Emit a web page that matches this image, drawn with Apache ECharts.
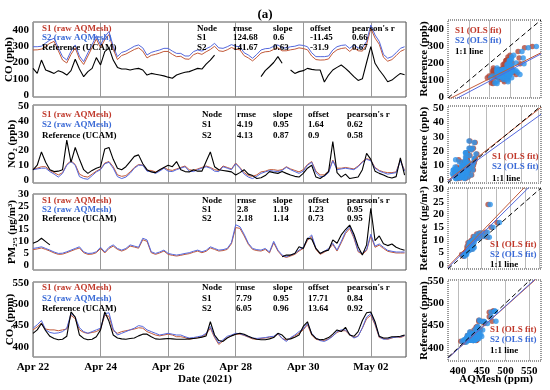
<!DOCTYPE html>
<html><head><meta charset="utf-8">
<script src="https://cdn.jsdelivr.net/npm/echarts@6/dist/echarts.min.js"></script>
<style>html,body{margin:0;padding:0;background:#fff}#c{width:550px;height:390px}</style>
</head><body><div id="c"></div><script>
const FONT = '"Liberation Serif","Times New Roman",serif';
const STEP_H = 3; // sample spacing (hours) starting Apr 22 00:00
const dateTicks = ['Apr 22','Apr 24','Apr 26','Apr 28','Apr 30','May 02'];

// ---- CO (ppb)
const CO_S1 = [277,278,282,300,318,330,272,215,197,250,290,222,188,240,292,345,290,340,372,282,218,243,252,266,280,290,270,228,244,250,258,268,268,250,236,238,222,220,248,258,250,266,280,300,272,268,278,292,282,278,242,228,210,232,258,266,268,280,290,272,272,278,282,290,286,278,240,218,215,216,222,258,278,286,290,268,290,272,270,310,410,350,312,232,208,218,242,268,280];
const CO_S2 = [297,297,300,320,338,349,290,236,215,270,308,240,205,260,310,365,308,359,390,300,236,262,270,285,300,308,290,246,262,270,277,287,287,270,256,256,240,240,267,277,270,285,297,318,290,287,297,310,300,297,260,246,226,250,277,285,287,300,308,290,290,297,300,308,305,297,260,236,236,236,240,277,297,305,308,287,308,290,290,330,430,369,330,250,226,236,260,287,297];
const CO_REF = [164,133,215,154,144,133,150,140,123,150,220,160,113,144,164,230,185,267,290,215,170,160,160,154,160,164,154,123,133,128,123,118,110,103,123,133,140,144,154,164,160,190,215,246,null,null,null,null,null,null,null,null,null,null,113,150,174,200,236,195,null,154,133,144,150,164,158,154,154,80,123,154,170,185,164,140,113,90,100,200,297,195,154,120,82,92,113,133,125];
// ---- NO2 (ppb)
const NO2_S1 = [7.5,8,9,9,6.5,5,3.5,5,10.5,13,10.5,4,2.5,2,4,6,7.5,11.5,12.5,9,3.5,2.5,3,5.5,8.5,10.5,10,6.5,6.5,5.5,6.5,8.5,7,6.5,7.5,8.5,9.5,7,6.5,7.5,8.5,9.5,8.5,7,6.5,9.5,8.5,7.5,11.5,8.5,5,3,2.5,3.5,5.5,6,7,7,6.5,7,9,7.5,6.5,5.5,7,10.5,12.5,6,3.5,3.5,6,13.5,8,8,8.5,8,7.5,9.5,12.5,14.5,13.5,8.5,6.5,5.5,5,5,5.5,13.5,6.5];
const NO2_S2 = [7,7.5,8,8,5.7,4,2,4.5,10,12.5,10,2.3,1,0.5,3,5.5,7,11,12,8,2.3,1,2,4.5,8,10,10,6,5.7,4.5,6,8,6,5.7,7,8,9,6,5.7,7,8,9,8,6,5.7,9,8,7,11,8,4,2,1,2.5,4.5,5.5,6.4,6,5.7,6.5,8.6,7,5.7,4.5,6,10,12,5,2.3,2.5,5,13,7,7.5,8,7.5,7,9,12,14,13,8,6,5,4,4.5,5,13,6];
const NO2_REF = [6.8,10,19,12,7,5.7,6,7,27,12,22,14,7,4.5,6.5,8,9,21,22,14,8,7,9,12.5,16,17,11,7,5.5,5,7,8.5,10,9,12.5,7,5.7,5.5,7,6,6,12.5,19,9,7,6.5,6,5.5,3.4,5,7,4,3,1,1.5,3,5.7,5,4.5,5.7,4.5,3.4,2.5,2,4.5,8,10,2,1,3,5.7,26,5,2,4,1,1.5,2,7,18,14,6,4.5,3.4,2,1.4,2.3,15,3.4];
// ---- PM2.5 (ug/m3)
const PM_S1 = [6.5,6.8,7.2,6.6,5.9,5.1,4.5,4.6,5.2,5.9,6.6,7.2,5.2,4.5,4.6,5.2,7,5.1,7,8,6.6,5.9,6.6,8,7.6,7.1,10.7,10,5.2,4.5,5.1,5.9,4.5,4.1,3.8,4.1,4.5,4.8,5.4,5.9,5.2,5.8,7.2,6.6,5.9,6.1,6.6,9,15.8,15.5,12.3,8.7,6.6,6.1,5.9,6.6,5.1,9.4,5.9,3.8,3.2,3.8,4.5,5.9,7,10.4,12,6.6,4.5,5.4,6.6,8.7,5.9,9.4,13.3,15.4,11.4,5.6,4.5,6.1,12.3,7.5,8.4,7,5.8,5.4,5.1,5.1,5.1];
const PM_S2 = [7,7.3,7.7,7,6.3,5.5,4.9,5,5.6,6.3,7,7.7,5.6,4.9,5,5.6,7.5,5.5,7.5,8.5,7,6.3,7,8.5,8,7.5,11.3,10.6,5.6,4.9,5.5,6.3,4.9,4.5,4.2,4.5,4.9,5.2,5.8,6.3,5.6,6.2,7.7,7,6.3,6.5,7,9.5,17,16.2,13,9.2,7,6.5,6.3,7,5.5,10,6.3,4.2,3.5,4.2,4.9,6.3,7.5,11,12.7,7,4.9,5.8,7,9.2,6.3,10,14,16.2,12,6,4.9,6.5,13,8,8.9,7.5,6.2,5.8,5.5,5.5,5.5];
const PM_REF = [9.2,9.9,11.3,9.9,8.5,null,null,null,null,null,null,null,null,null,null,null,null,null,null,null,null,null,null,null,null,null,null,null,null,null,null,null,null,null,null,null,null,null,null,null,null,null,null,null,null,null,null,null,null,null,null,null,null,null,null,null,null,null,null,3.5,4.2,4.2,4.9,7.7,7,11.3,11,7,4.9,5.8,6.3,10.6,9.2,12.7,15,16.9,13,7.7,4.2,8.5,24,10.3,12.3,9,8.2,8.9,7.5,6.8,6.2];
// ---- CO2 (ppm)
const CO2_S1 = [440,447,456,442,440,440,438,440,442,474,466,440,434,432,434,436,442,474,472,438,432,436,438,440,442,445,444,436,432,428,426,428,430,428,424,424,422,418,420,422,424,430,444,422,406,414,422,426,430,430,427,423,419,418,420,421,423,424,430,420,416,420,426,432,440,452,428,418,416,415,419,426,434,438,438,428,422,426,444,466,474,452,422,420,418,421,424,422,426];
const CO2_S2 = [444,452,462,440,434,432,433,436,444,478,470,445,436,432,436,440,444,478,480,442,428,432,436,440,444,450,448,440,436,432,428,430,432,430,428,428,424,421,422,424,426,432,448,425,409,417,425,428,432,431,428,424,421,420,421,422,424,425,432,420,413,422,428,436,442,455,432,421,415,413,418,425,436,440,440,430,421,425,445,470,478,455,424,418,419,422,423,424,427];
const CO2_REF = [432,440,455,438,425,420,417,418,425,482,470,428,420,417,418,424,440,482,460,428,421,419,418,420,421,426,430,430,424,419,418,419,420,419,418,418,418,419,420,421,423,426,459,428,415,413,421,426,430,432,430,425,421,418,417,417,419,422,432,428,418,419,423,428,448,459,430,420,417,418,422,430,440,436,446,428,425,436,462,480,482,459,425,421,421,424,424,425,428];

// stats: rmse, slope, offset, pearson's r
const CO_STATS_S1 = [124.68, 0.6, -11.45, 0.66],  CO_STATS_S2 = [141.67, 0.63, -31.9, 0.67];
const NO2_STATS_S1 = [4.19, 0.95, 1.64, 0.62],    NO2_STATS_S2 = [4.13, 0.87, 0.9, 0.58];
const PM_STATS_S1 = [2.8, 1.19, 1.23, 0.95],      PM_STATS_S2 = [2.18, 1.14, 0.73, 0.95];
const CO2_STATS_S1 = [7.79, 0.95, 17.71, 0.84],   CO2_STATS_S2 = [6.05, 0.96, 13.64, 0.92];
const tableHeader = ['Node','rmse','slope','offset',"pearson's r"];

const yNames = ['CO (ppb)','NO\u2082 (ppb)','PM\u2082.\u2085 (\u03bcg/m\u00b3)','CO\u2082 (ppm)'];
const refNames = ['Reference (ppb)','Reference (ppb)','Reference (\u03bcg/m\u00b3)','Reference (ppm)'];
const yTicks = [[0,100,200,300,400],[0,10,20,30,40,50],[0,5,10,15,20,25,30],[400,450,500,550]];
const scXTicks = [[100,200,300,400],[10,20,30,40,50],[5,10,15,20,25,30],[400,450,500,550]];

const panels = [
  {s1:CO_S1,s2:CO_S2,ref:CO_REF,st1:CO_STATS_S1,st2:CO_STATS_S2},
  {s1:NO2_S1,s2:NO2_S2,ref:NO2_REF,st1:NO2_STATS_S1,st2:NO2_STATS_S2},
  {s1:PM_S1,s2:PM_S2,ref:PM_REF,st1:PM_STATS_S1,st2:PM_STATS_S2},
  {s1:CO2_S1,s2:CO2_S2,ref:CO2_REF,st1:CO2_STATS_S1,st2:CO2_STATS_S2}
];

// ---- layout / style (not data)
const L = {
  tsLeft:33, tsWidth:373, tsTops:[22,105,194,282], tsHeights:[75,78,76,75],
  tsY:[[-12,449],[-2,50.7],[-2.1,30],[376.6,552]], tsXMax:265,
  scLeft:448, scWidth:93, scTops:[20,106,188,280], scHeights:[78,77,81,81],
  scX:[[-6,453],[-2.1,51.4],[-1.5,30.5],[379,575]], scY:[[-6,453],[-2.1,51.4],[-1.5,30.5],[371,552]],
  legRows:[[29,38,48],[115,125,136],[201,210,219],[288,299,309]],
  tabCols:[[197,233,273,310,352],[202,237,273,308,347],[202,237,273,308,347],[202,236,273,308,347]],
  scLeg:[[455,[31,41,52]],[492,[157,167,179]],[490,[245,255,265]],[490,[330,340,351]]],
  yNameX:[9,12,12,10]
};
const C1 = '#c25a3a', C2 = '#5468dd', CT1 = '#c0392b', CT2 = '#3a6ad6';
const SC1 = '#b0483a', SC2 = '#2e94ea';

const hours = CO_S1.map((_, i) => i * STEP_H);
const series = (vals) => vals.map((v, i) => [hours[i], v]);
const pairs = (sx, ref) => { const o=[]; sx.forEach((v,i)=>{ if(v!=null && ref[i]!=null) o.push([v, ref[i]]); }); return o; };

const lab = {fontFamily:FONT, fontWeight:'bold', fontSize:11, color:'#000'};
const grids=[], xAxes=[], yAxes=[], ser=[];
for (let p=0;p<4;p++){
  grids.push({left:L.tsLeft, top:L.tsTops[p], width:L.tsWidth, height:L.tsHeights[p], show:true, borderColor:'#555', borderWidth:1, backgroundColor:'transparent'});
  xAxes.push({type:'value', gridIndex:p, min:0, max:L.tsXMax, interval:48,
    axisLine:{show:false}, axisTick:{show:false},
    splitLine:{show:true, lineStyle:{color:'#999', width:1}},
    axisLabel:Object.assign({show:p===3, margin:5, showMaxLabel:false, formatter:v=> (v%48===0 ? dateTicks[v/48]||'' : '')}, lab)});
  yAxes.push({type:'value', gridIndex:p, min:L.tsY[p][0], max:L.tsY[p][1],
    axisLine:{show:false}, axisTick:{show:false, customValues:yTicks[p]}, splitLine:{show:false},
    axisLabel:Object.assign({customValues:yTicks[p], margin:4}, lab)});
}
for (let p=0;p<4;p++){
  grids.push({left:L.scLeft, top:L.scTops[p], width:L.scWidth, height:L.scHeights[p], show:true, borderColor:'#333', borderWidth:1, borderType:'dotted', backgroundColor:'transparent'});
  xAxes.push({type:'value', gridIndex:4+p, min:L.scX[p][0], max:L.scX[p][1],
    axisLine:{show:false}, axisTick:{show:false, customValues:scXTicks[p]},
    splitLine:{show:true, lineStyle:{color:'#bbb', width:1}},
    axisLabel:Object.assign({show:p===3, customValues:scXTicks[p], margin:5}, lab)});
  yAxes.push({type:'value', gridIndex:4+p, min:L.scY[p][0], max:L.scY[p][1],
    axisLine:{show:false}, axisTick:{show:false, customValues:yTicks[p]}, splitLine:{show:false},
    axisLabel:Object.assign({customValues:yTicks[p], margin:4}, lab)});
}
panels.forEach((P,p)=>{
  const ln = (data,color,w,z)=>({type:'line', xAxisIndex:p, yAxisIndex:p, data, showSymbol:false, connectNulls:false, z, lineStyle:{color, width:w}, itemStyle:{color}});
  ser.push(ln(series(P.s1), C1, 1, 2));
  ser.push(ln(series(P.s2), C2, 1, 3));
  ser.push(ln(series(P.ref), '#000', 1.1, 4));
  const sc = (data,color,z)=>({type:'scatter', xAxisIndex:4+p, yAxisIndex:4+p, data, symbol:'circle', symbolSize:5.5, z, itemStyle:{color}});
  ser.push(sc(pairs(P.s1,P.ref), SC1, 2));
  ser.push(sc(pairs(P.s2,P.ref), SC2, 3));
  const [x0,x1] = L.scX[p];
  const fit = (st,color)=>({type:'line', xAxisIndex:4+p, yAxisIndex:4+p, showSymbol:false, z:5, clip:true,
    data:[[x0, st[1]*x0+st[2]],[x1, st[1]*x1+st[2]]], lineStyle:{color, width:1}});
  ser.push(fit(P.st1, C1));
  ser.push(fit(P.st2, C2));
  ser.push({type:'line', xAxisIndex:4+p, yAxisIndex:4+p, showSymbol:false, z:5, clip:true,
    data:[[x0,x0],[x1,x1]], lineStyle:{color:'#000', width:1, type:[5,3]}});
});

const T = (x,y,text,o={}) => ({type:'text', x, y, rotation:o.rot||0, silent:true, z:100,
  style:{text, fill:o.color||'#000', font:`bold ${o.size||9}px ${FONT}`, align:o.align||'left', verticalAlign:'middle', textAlign:o.align||'left', textVerticalAlign:'middle'}});
const g=[];
g.push(T(265,15,'(a)',{size:13,align:'center'}));
panels.forEach((P,p)=>{
  const cy = L.tsTops[p] + L.tsHeights[p]/2;
  g.push(T(L.yNameX[p], cy, yNames[p], {size:11, align:'center', rot:Math.PI/2}));
  const scy = L.scTops[p] + L.scHeights[p]/2;
  g.push(T(424, scy, refNames[p], {size:11, align:'center', rot:Math.PI/2}));
  const r = L.legRows[p];
  g.push(T(42, r[0], 'S1 (raw AQMesh)', {color:CT1}));
  g.push(T(42, r[1], 'S2 (raw AQMesh)', {color:CT2}));
  g.push(T(42, r[2], 'Reference (UCAM)'));
  const c = L.tabCols[p];
  tableHeader.forEach((h,k)=>g.push(T(c[k], r[0], h)));
  g.push(T(c[0], r[1], 'S1')); g.push(T(c[0], r[2], 'S2'));
  P.st1.forEach((v,k)=>g.push(T(c[k+1], r[1], String(v))));
  P.st2.forEach((v,k)=>g.push(T(c[k+1], r[2], String(v))));
  const [lx, lr] = L.scLeg[p];
  g.push(T(lx, lr[0], 'S1 (OLS fit)', {color:CT1}));
  g.push(T(lx, lr[1], 'S2 (OLS fit)', {color:CT2}));
  g.push(T(lx, lr[2], '1:1 line'));
});
g.push(T(205,379,'Date (2021)',{size:11,align:'center'}));
g.push(T(496,379,'AQMesh (ppm)',{size:11,align:'center'}));

const chart = echarts.init(document.getElementById('c'), null, {renderer:'canvas'});
chart.setOption({animation:false, backgroundColor:'#fff', grid:grids, xAxis:xAxes, yAxis:yAxes, series:ser, graphic:g});
</script></body></html>
